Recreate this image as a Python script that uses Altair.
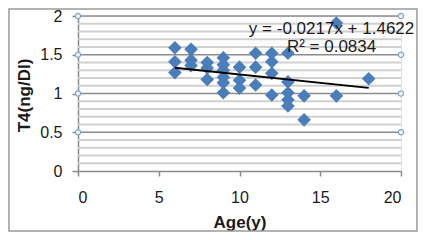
import altair as alt
import pandas as pd

# Data
age = [6, 6, 6,
       7, 7, 7,
       8, 8, 8,
       9, 9, 9, 9, 9, 9,
       10, 10, 10,
       11, 11, 11,
       12, 12, 12, 12,
       13, 13, 13, 13, 13,
       14, 14,
       16, 16,
       18]
t4 = [1.59, 1.41, 1.27,
      1.57, 1.43, 1.36,
      1.40, 1.33, 1.18,
      1.46, 1.37, 1.30, 1.21, 1.14, 1.01,
      1.34, 1.17, 1.07,
      1.52, 1.34, 1.11,
      1.52, 1.41, 1.26, 0.98,
      1.52, 1.15, 1.01, 0.92, 0.84,
      0.97, 0.66,
      1.91, 0.97,
      1.19]

slope = -0.0217
intercept = 1.4622
r2 = 0.0834

x_ticks = [0, 5, 10, 15, 20]
y_ticks = [0, 0.5, 1, 1.5, 2]
y_grid = [round(i / 10, 1) for i in range(1, 21)]
marker_y = [0.5, 1, 1.5, 2]
marker_x = [0, 20]

FONT = "Liberation Sans"
BLUE = "#4a7ebb"
GRAY = "#8a8a8a"

pts = pd.DataFrame({"age": age, "t4": t4})
fit = pd.DataFrame({"age": [min(age), max(age)]})
fit["t4"] = slope * fit["age"] + intercept
markers = pd.DataFrame([{"x": mx, "y": my} for mx in marker_x for my in marker_y])
grid = pd.DataFrame({"y": y_grid})
grid["major"] = [round(v * 10) % 5 == 0 for v in y_grid]
labels = pd.DataFrame({
    "x": [15.7, 15.7],
    "y": [1.83, 1.605],
    "text": [f"y = {slope}x + {intercept}", f"R\u00b2 = {r2}"],
})

xscale = alt.Scale(domain=[0, 20], nice=False, zero=False)
yscale = alt.Scale(domain=[0, 2], nice=False, zero=False)

xaxis = alt.Axis(
    values=x_ticks, grid=False, title="Age(y)", format="~g",
    labelFont=FONT, labelFontSize=16, labelColor="#1a1a1a", labelPadding=13,
    tickSize=5, tickColor=GRAY, tickWidth=1.5, domainColor=GRAY, domainWidth=1.5,
    titleFont=FONT, titleFontSize=17, titleFontWeight="bold", titleColor="#1a1a1a",
    titleX=161.5, titleY=51, titleBaseline="middle", titleAlign="center",
)
yaxis = alt.Axis(
    values=y_ticks, title="T4(ng/Dl)", grid=False, format="~g",
    labelOverlap=False, labelBound=False, labelFlush=False,
    labelFont=FONT, labelFontSize=16, labelColor="#1a1a1a", labelPadding=10,
    tickSize=6, tickColor=GRAY, tickWidth=1.5,
    domainColor=GRAY, domainWidth=1.5,
    titleFont=FONT, titleFontSize=17, titleFontWeight="bold", titleColor="#1a1a1a",
    titleX=-54, titleY=79, titleBaseline="middle", titleAlign="center", titleAngle=-90,
)

frame = alt.Chart(pd.DataFrame({"a": [0]})).mark_rect(
    fill=None, stroke="#9a9a9a", strokeWidth=1.5, clip=False
).encode(
    x=alt.value(-69), x2=alt.value(339), y=alt.value(-7), y2=alt.value(215)
)

gridlines = alt.Chart(grid).mark_rule().encode(
    y=alt.Y("y:Q", scale=yscale, axis=None),
    color=alt.condition("datum.major", alt.value("#8c8c8c"), alt.value("#d0d0d0")),
    strokeWidth=alt.condition("datum.major", alt.value(1.5), alt.value(2)),
)

points = alt.Chart(pts).mark_point(
    shape="diamond", filled=True, color=BLUE, size=185, opacity=1
).encode(
    x=alt.X("age:Q", scale=xscale, axis=xaxis),
    y=alt.Y("t4:Q", scale=yscale, axis=yaxis),
)

circles = alt.Chart(markers).mark_point(
    shape="circle", filled=True, fill="#eef3f8", stroke="#7ea3c8", strokeWidth=1.2,
    size=28, opacity=1, clip=False
).encode(x=alt.X("x:Q", scale=xscale, axis=None), y=alt.Y("y:Q", scale=yscale, axis=None))

line = alt.Chart(fit).mark_line(color="black", strokeWidth=1.8).encode(
    x=alt.X("age:Q", scale=xscale, axis=None), y=alt.Y("t4:Q", scale=yscale, axis=None)
)

text = alt.Chart(labels).mark_text(
    font=FONT, fontSize=17, color="#1a1a1a", align="center", baseline="middle", clip=False
).encode(x=alt.X("x:Q", scale=xscale, axis=None), y=alt.Y("y:Q", scale=yscale, axis=None), text="text:N")

chart = alt.layer(gridlines, circles, points, line, text, frame).resolve_axis(
    x="independent", y="independent"
).properties(
    width=323, height=155,
    padding={"left": 70, "top": 8, "right": 17, "bottom": 61},
    autosize=alt.AutoSizeParams(type="none"),
).configure_view(stroke=None).configure(background="white")

chart.save("out.html", embed_options={"renderer": "svg", "actions": False})
